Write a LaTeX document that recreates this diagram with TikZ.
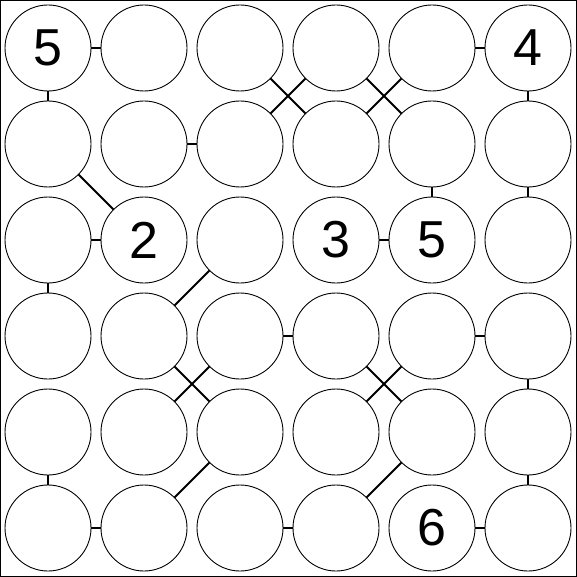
\documentclass[tikz,border=0pt]{standalone}
\usepackage{fontspec}
\setmainfont{Liberation Sans}
\usepackage{tikz}
\usetikzlibrary{calc}
\tikzset{
    cell/.style={draw, circle, minimum size=86pt, inner sep=0pt, line width=0.9pt},
    link/.style={line width=2pt},
    digit/.style={inner sep=0pt, font=\fontsize{52}{52}\selectfont}
}

\begin{document}
\begin{tikzpicture}[x=1pt, y=-1pt]
        \useasboundingbox (0,0) rectangle (577,577);
        \draw[line width=1pt] (0.5,0.5) rectangle (576.5,576.5);

        \foreach \i in {0,...,5}
            \foreach \j in {0,...,5}
                \draw (48+96*\i, 48+96*\j) node[cell](c-\i-\j){};

        % givens
        \foreach \i/\j/\v in {0/0/5, 5/0/4, 1/2/2, 3/2/3, 4/2/5, 4/5/6}
            \draw (c-\i-\j) node[digit](d-\i-\j){\v};

        % horizontal and vertical links
        \foreach \a/\b/\c/\d in {0/0/1/0, 4/0/5/0, 1/1/2/1, 0/2/1/2, 3/2/4/2,
                2/3/3/3, 4/3/5/3, 0/5/1/5, 2/5/3/5, 4/5/5/5,
                0/0/0/1, 5/0/5/1, 4/1/4/2, 5/1/5/2, 0/2/0/3,
                5/3/5/4, 0/4/0/5, 5/4/5/5}
            \draw[link] (c-\a-\b) -- (c-\c-\d);

        % diagonal links
        \foreach \a/\b/\c/\d in {2/0/3/1, 3/0/2/1, 3/0/4/1, 4/0/3/1, 0/1/1/2,
                2/2/1/3, 1/3/2/4, 2/3/1/4, 3/3/4/4, 4/3/3/4,
                2/4/1/5, 4/4/3/5}
            \draw[link] (c-\a-\b) -- (c-\c-\d);
    \end{tikzpicture}
\end{document}
